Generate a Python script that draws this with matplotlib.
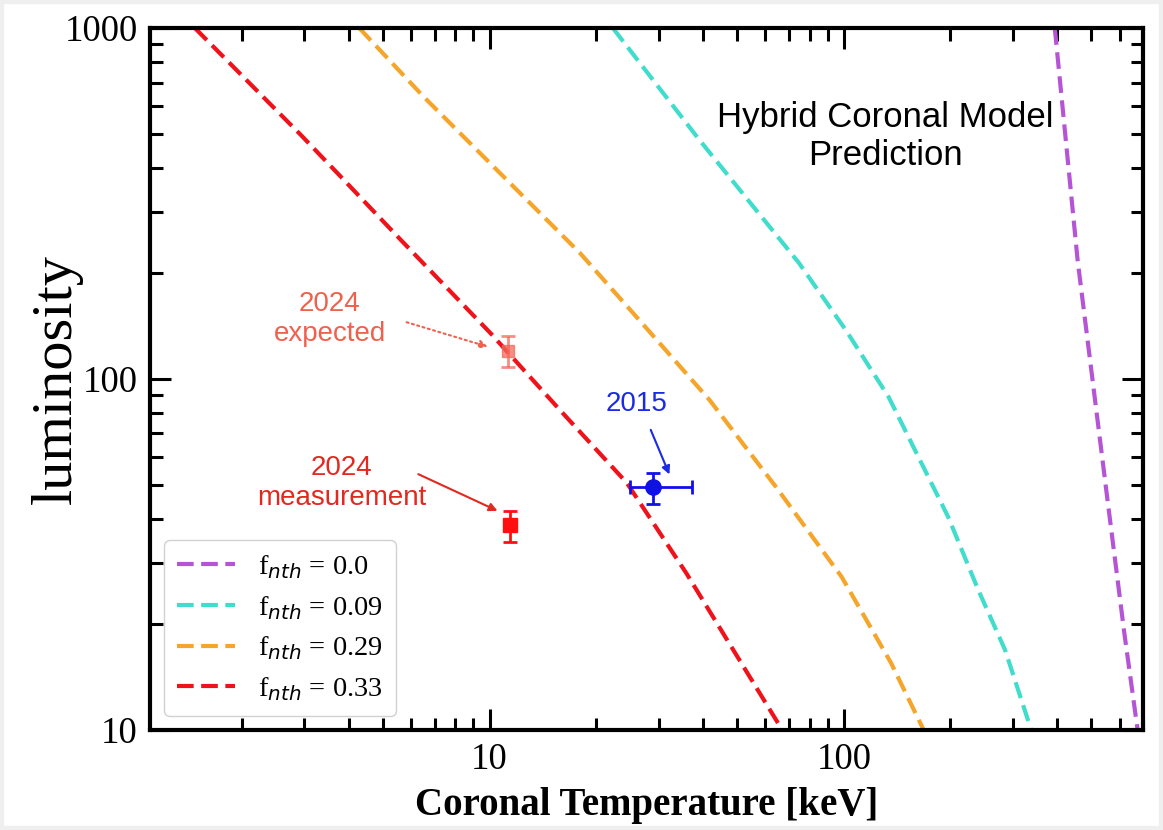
import numpy as np
import matplotlib
matplotlib.use('Agg')
import matplotlib.pyplot as plt
from matplotlib.patches import Rectangle

# model curves: (coronal temperature keV, luminosity)
red_T = [1.474, 2.94, 3.815, 5.62, 10.07, 15.8, 24.4, 35.9, 67.0]
red_L = [1000, 495, 376, 249, 135, 81.6, 50.6, 28.0, 10]
orange_T = [4.29, 6.53, 11.2, 18.0, 26.5, 41.8, 64.4, 98.6, 136, 168]
orange_L = [1000, 636, 369, 228.6, 147, 87.1, 49.2, 27.3, 15.5, 10]
cyan_T = [22.3, 39.15, 74.75, 101.3, 133.8, 165.6, 197.2, 239.4, 285.2, 338]
cyan_L = [1000, 479.7, 214, 137.9, 88.9, 57.6, 40.4, 25.1, 16.9, 10]
purple_T = [394, 457, 555, 619, 675]
purple_L = [1000, 218, 45.2, 18.9, 10]

curve_labels = [r'f$_{nth}$ = 0.0', r'f$_{nth}$ = 0.09', r'f$_{nth}$ = 0.29', r'f$_{nth}$ = 0.33']
curve_colors = ['#b555d6', '#40dccc', '#f5a52a', '#f0121a']

# observations
exp_T, exp_L = 11.3, 120
exp_Lerr = [[12], [13]]
meas_T, meas_L = 11.4, 38.4
meas_Lerr = [[4.1], [3.7]]
obs15_T, obs15_L = 28.9, 49.2
obs15_Terr = [[4.0], [8.3]]
obs15_Lerr = [[5.2], [4.8]]

fig = plt.figure(figsize=(11.63, 8.30), dpi=100)
fig.patch.set_facecolor('white')
fig.patches.append(Rectangle((0, 0), 1, 1, transform=fig.transFigure, fill=False,
                             edgecolor='#efefef', linewidth=6))
ax = fig.add_axes([0.129, 0.1205, 0.854, 0.8455])

curves = [(purple_T, purple_L), (cyan_T, cyan_L), (orange_T, orange_L), (red_T, red_L)]
for (T, L), lab, col in zip(curves, curve_labels, curve_colors):
    ax.plot(T, L, color=col, lw=3, ls=(0, (4.0, 1.8)), label=lab)

ax.errorbar(exp_T, exp_L, yerr=exp_Lerr, fmt='s', color='#f2685a', alpha=0.75,
            ms=8, capsize=5, elinewidth=2, capthick=2)
ax.errorbar(meas_T, meas_L, yerr=meas_Lerr, fmt='s', color='#ff1010',
            ms=10, capsize=5, elinewidth=2, capthick=2)
ax.errorbar(obs15_T, obs15_L, xerr=obs15_Terr, yerr=obs15_Lerr, fmt='o', color='#1010e8',
            ms=11, capsize=5, elinewidth=2, capthick=2)

ax.set_xscale('log')
ax.set_yscale('log')
ax.set_xlim(1.1, 700)
ax.set_ylim(10, 1000)

ax.set_xticks([10, 100])
ax.set_xticklabels(['10', '100'])
ax.set_yticks([10, 100, 1000])
ax.set_yticklabels(['10', '100', '1000'])
for lab in ax.get_xticklabels() + ax.get_yticklabels():
    lab.set_fontfamily('Liberation Serif')
    lab.set_fontsize(26.5)
ax.tick_params(which='both', direction='in', top=True, right=True, width=2.2)
ax.tick_params(which='major', length=15, pad=9)
ax.tick_params(which='minor', length=9)
for sp in ax.spines.values():
    sp.set_linewidth(3)

ax.set_xlabel('Coronal Temperature [keV]', fontfamily='Liberation Serif',
              fontweight='bold', fontsize=28, labelpad=7)
ax.set_ylabel('luminosity', fontfamily='Liberation Serif', fontsize=42)
ax.yaxis.set_label_coords(-0.068, 0.5)

sans = 'Liberation Sans'
ax.text(0.74, 0.846, 'Hybrid Coronal Model\nPrediction', transform=ax.transAxes,
        ha='center', va='center', fontsize=25, fontfamily=sans, color='black')
ax.text(0.181, 0.585, '2024\nexpected', transform=ax.transAxes, ha='center', va='center',
        fontsize=20, fontfamily=sans, color='#f0604c')
ax.text(0.193, 0.352, '2024\nmeasurement', transform=ax.transAxes, ha='center', va='center',
        fontsize=20, fontfamily=sans, color='#e32820')
ax.text(0.49, 0.465, '2015', transform=ax.transAxes, ha='center', va='center',
        fontsize=20, fontfamily=sans, color='#1a2ae6')

ax.annotate('', xy=(10.06, 123), xytext=(5.73, 146),
            arrowprops=dict(arrowstyle='-|>', color='#f0604c', lw=1.5, ls=':', mutation_scale=12))
ax.annotate('', xy=(10.7, 41.8), xytext=(6.19, 54.0),
            arrowprops=dict(arrowstyle='-|>', color='#e32820', lw=1.5, mutation_scale=12))
ax.annotate('', xy=(32.4, 52.6), xytext=(28.3, 72.9),
            arrowprops=dict(arrowstyle='-|>', color='#1a2ae6', lw=1.5, mutation_scale=12))

leg = ax.legend(loc='lower left', prop={'family': 'Liberation Serif', 'size': 20.5},
                handlelength=2.05, handletextpad=0.8, labelspacing=0.45,
                borderpad=0.45, framealpha=0.9, edgecolor='#cccccc', fancybox=True)

fig.savefig('out.png', dpi=100, facecolor='white')
